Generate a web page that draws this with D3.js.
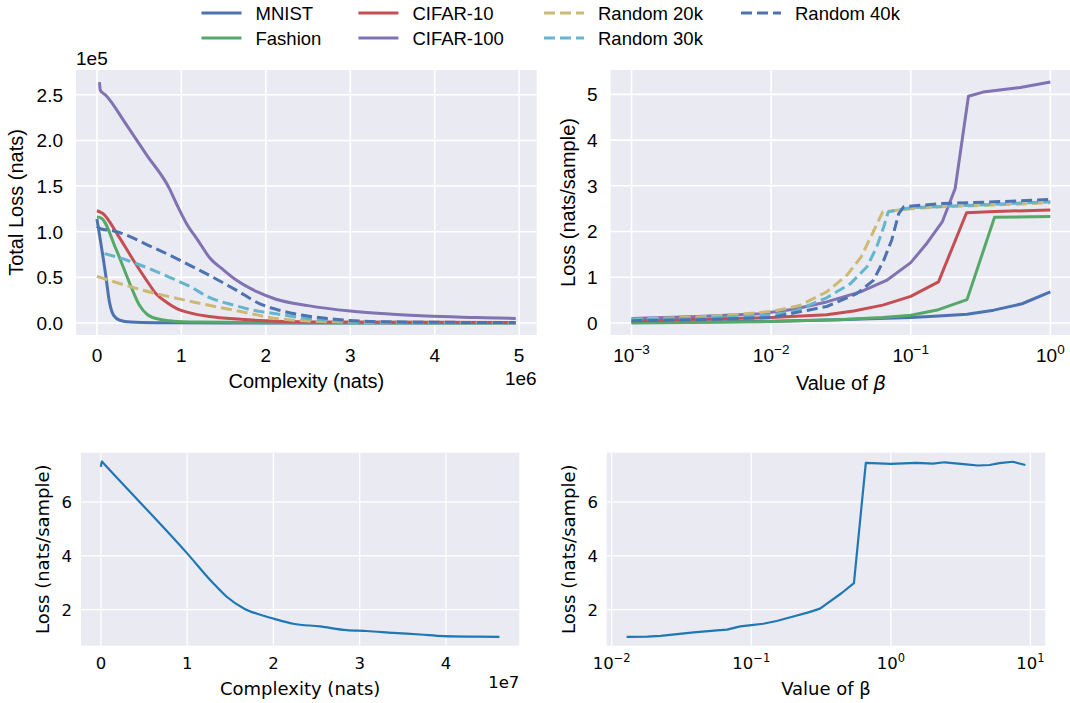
<!DOCTYPE html>
<html>
<head>
<meta charset="utf-8">
<script src="https://cdn.jsdelivr.net/npm/d3@7"></script>
<style>
  body { margin: 0; background: #fff; }
</style>
</head>
<body>
<div id="chart"></div>
<script>
// ---- data ----
var seriesNames = ["MNIST", "Fashion", "CIFAR-10", "CIFAR-100", "Random 20k", "Random 30k", "Random 40k"];
var seriesColors = ["#4C72B0", "#55A868", "#C44E52", "#8172B2", "#CCB974", "#64B5CD", "#4C72B0"];
var seriesDashed = [false, false, false, false, true, true, true];

// top left: complexity (x 1e6 nats) vs total loss (x 1e5 nats)
var complexityMnist = [[0, 1.14], [0.1, 0.55], [0.15, 0.22], [0.2, 0.08], [0.27, 0.03], [0.4, 0.01], [0.7, 0.003], [1.5, 0], [4.96, 0]];
var complexityFashion = [[0, 1.16], [0.05, 1.15], [0.23, 0.8], [0.39, 0.43], [0.5, 0.2], [0.6, 0.09], [0.74, 0.04], [0.9, 0.02], [1.2, 0.01], [2, 0.003], [4.96, 0]];
var complexityCifar10 = [[0, 1.23], [0.07, 1.2], [0.25, 0.96], [0.43, 0.69], [0.6, 0.45], [0.7, 0.32], [0.82, 0.23], [0.94, 0.16], [1.1, 0.11], [1.33, 0.07], [1.7, 0.04], [2.12, 0.02], [3, 0.01], [4.96, 0.005]];
var complexityCifar100 = [[0.03, 2.64], [0.04, 2.55], [0.11, 2.49], [0.35, 2.17], [0.59, 1.84], [0.86, 1.47], [0.95, 1.29], [1.06, 1.09], [1.2, 0.9], [1.33, 0.72], [1.5, 0.58], [1.65, 0.47], [1.9, 0.34], [2.12, 0.26], [2.5, 0.19], [3, 0.13], [3.5, 0.095], [3.9, 0.075], [4.5, 0.06], [4.96, 0.05]];
var complexityRand20 = [[0, 0.51], [0.54, 0.36], [1.14, 0.23], [1.73, 0.12], [2.12, 0.05], [2.33, 0.03], [3, 0.01], [4.96, 0.003]];
var complexityRand30 = [[0.09, 0.76], [0.35, 0.69], [0.86, 0.5], [1.1, 0.4], [1.33, 0.28], [1.6, 0.2], [1.85, 0.14], [2.12, 0.1], [2.4, 0.06], [2.72, 0.03], [3.5, 0.01], [4.96, 0.003]];
var complexityRand40 = [[0, 1.06], [0.05, 1.03], [0.19, 1.01], [0.66, 0.83], [1.21, 0.58], [1.65, 0.36], [1.93, 0.21], [2.12, 0.15], [2.4, 0.09], [2.72, 0.05], [3.5, 0.01], [4.96, 0.005]];

// top right: beta vs loss (nats/sample)
var betaMnist = [[0.001, 0.01], [0.003, 0.02], [0.01, 0.04], [0.03, 0.07], [0.1, 0.12], [0.158, 0.15], [0.253, 0.19], [0.393, 0.28], [0.627, 0.42], [1, 0.68]];
var betaFashion = [[0.001, 0], [0.01, 0.03], [0.03, 0.07], [0.063, 0.12], [0.1, 0.17], [0.158, 0.29], [0.253, 0.51], [0.398, 2.31], [1, 2.33]];
var betaCifar10 = [[0.001, 0.05], [0.003, 0.08], [0.01, 0.12], [0.025, 0.18], [0.039, 0.26], [0.063, 0.39], [0.1, 0.58], [0.158, 0.9], [0.251, 2.41], [0.4, 2.44], [1, 2.47]];
var betaCifar100 = [[0.001, 0.1], [0.003, 0.14], [0.0083, 0.2], [0.0145, 0.3], [0.025, 0.46], [0.0436, 0.68], [0.067, 0.93], [0.1, 1.32], [0.131, 1.75], [0.168, 2.21], [0.208, 2.94], [0.259, 4.96], [0.33, 5.05], [0.61, 5.15], [1, 5.27]];
var betaRand20 = [[0.001, 0.08], [0.003, 0.13], [0.006, 0.19], [0.01, 0.25], [0.016, 0.38], [0.025, 0.68], [0.035, 1.05], [0.044, 1.44], [0.054, 2.0], [0.063, 2.43], [0.1, 2.5], [0.16, 2.54], [0.4, 2.58], [1, 2.63]];
var betaRand30 = [[0.001, 0.07], [0.003, 0.1], [0.01, 0.17], [0.0145, 0.25], [0.025, 0.55], [0.037, 0.86], [0.0486, 1.23], [0.057, 1.66], [0.064, 2.1], [0.069, 2.43], [0.1, 2.52], [0.3, 2.58], [1, 2.65]];
var betaRand40 = [[0.001, 0.05], [0.003, 0.07], [0.01, 0.12], [0.025, 0.36], [0.041, 0.64], [0.054, 0.93], [0.064, 1.37], [0.073, 1.81], [0.082, 2.39], [0.089, 2.54], [0.16, 2.61], [0.4, 2.65], [1, 2.7]];

// bottom left: complexity (x 1e7 nats) vs loss
var bigComplexity = [[0, 7.3], [0.01, 7.5], [0.03, 7.43], [1.0, 4.09], [1.3, 2.99], [1.455, 2.49], [1.667, 2.03], [1.84, 1.82], [2.0, 1.67], [2.23, 1.48], [2.54, 1.38], [2.85, 1.24], [3.08, 1.21], [3.39, 1.14], [3.7, 1.08], [3.97, 1.02], [4.36, 1.0], [4.62, 0.99]];
// bottom right: beta vs loss
var bigBeta = [[0.0128, 0.99], [0.018, 1.0], [0.0224, 1.03], [0.0387, 1.16], [0.0569, 1.23], [0.067, 1.26], [0.0834, 1.38], [0.1, 1.43], [0.122, 1.48], [0.152, 1.58], [0.2, 1.75], [0.257, 1.9], [0.311, 2.04], [0.367, 2.31], [0.445, 2.62], [0.544, 2.99], [0.662, 7.45], [1.0, 7.41], [1.53, 7.45], [2.0, 7.42], [2.43, 7.47], [3.47, 7.39], [4.2, 7.35], [5.1, 7.37], [6.0, 7.44], [7.48, 7.49], [9.2, 7.37]];

var topLeftTicksX = [0, 1, 2, 3, 4, 5];
var topLeftTicksY = [0, 0.5, 1, 1.5, 2, 2.5];
var topRightTicksX = [-3, -2, -1, 0];
var topRightTicksY = [0, 1, 2, 3, 4, 5];
var bottomLeftTicksX = [0, 1, 2, 3, 4];
var bottomTicksY = [2, 4, 6];
var bottomRightTicksX = [-2, -1, 0, 1];

var topLeftSeries = [complexityMnist, complexityFashion, complexityCifar10, complexityCifar100, complexityRand20, complexityRand30, complexityRand40];
var topRightSeries = [betaMnist, betaFashion, betaCifar10, betaCifar100, betaRand20, betaRand30, betaRand40];

// ---- chart ----
var svgWidth = 1070;
var svgHeight = 703;

var svg = d3.select("#chart")
  .append("svg")
  .attr("width", svgWidth)
  .attr("height", svgHeight)
  .style("font-family", "'Liberation Sans', Arial, sans-serif");

svg.append("rect").attr("width", svgWidth).attr("height", svgHeight).attr("fill", "#fff");

var topFont = "'Liberation Sans', Arial, sans-serif";
var botFont = "'DejaVu Sans', sans-serif";

// matplotlib-style 5% padding
function padded(lo, hi) {
  var p = (hi - lo) * 0.05;
  return [lo - p, hi + p];
}
function allPoints(list) {
  return [].concat.apply([], list);
}

// builds one panel: background, grid and scales
function makePanel(box, xScale, yScale, xTicks, yTicks, gridWidth) {
  var g = svg.append("g");
  g.append("rect")
    .attr("x", box.left).attr("y", box.top)
    .attr("width", box.right - box.left).attr("height", box.bottom - box.top)
    .attr("fill", "#EAEAF2");
  g.selectAll(".gx").data(xTicks).enter().append("line")
    .attr("x1", d => xScale(d)).attr("x2", d => xScale(d))
    .attr("y1", box.top).attr("y2", box.bottom)
    .attr("stroke", "#fff").attr("stroke-width", gridWidth);
  g.selectAll(".gy").data(yTicks).enter().append("line")
    .attr("x1", box.left).attr("x2", box.right)
    .attr("y1", d => yScale(d)).attr("y2", d => yScale(d))
    .attr("stroke", "#fff").attr("stroke-width", gridWidth);
  var clipId = "clip" + Math.round(box.left) + "_" + Math.round(box.top);
  svg.append("clipPath").attr("id", clipId).append("rect")
    .attr("x", box.left).attr("y", box.top)
    .attr("width", box.right - box.left).attr("height", box.bottom - box.top);
  return g.append("g").attr("clip-path", "url(#" + clipId + ")");
}

function powerLabel(sel, exp, big, small) {
  sel.append("tspan").text("10").style("font-size", big + "px");
  sel.append("tspan").text("\u2212".repeat(exp < 0 ? 1 : 0) + Math.abs(exp))
    .attr("dy", -big * 0.42).style("font-size", small + "px");
}

// ---------- top left ----------
var b1 = {left: 76, right: 536.7, top: 70, bottom: 335};
var p1 = allPoints(topLeftSeries);
var x1 = d3.scaleLinear().domain(padded(0, d3.max(p1, d => d[0]))).range([b1.left, b1.right]);
var y1 = d3.scaleLinear().domain(padded(0, d3.max(p1, d => d[1]))).range([b1.bottom, b1.top]);
var g1 = makePanel(b1, x1, y1, topLeftTicksX, topLeftTicksY, 1.6);

var line1 = d3.line().x(d => x1(d[0])).y(d => y1(d[1])).curve(d3.curveMonotoneX);
topLeftSeries.forEach(function(s, i) {
  g1.append("path").datum(s)
    .attr("d", line1)
    .attr("fill", "none")
    .attr("stroke", seriesColors[i])
    .attr("stroke-width", 3)
    .attr("stroke-dasharray", seriesDashed[i] ? "11,5" : null)
    .attr("stroke-linecap", "butt");
});

svg.selectAll(".t1x").data(topLeftTicksX).enter().append("text")
  .attr("x", d => x1(d)).attr("y", 362)
  .attr("text-anchor", "middle").style("font-size", "19px").style("font-family", topFont)
  .text(d => d);
svg.selectAll(".t1y").data(topLeftTicksY).enter().append("text")
  .attr("x", 63).attr("y", d => y1(d) + 6.8)
  .attr("text-anchor", "end").style("font-size", "19px").style("font-family", topFont)
  .text(d => d.toFixed(1));
svg.append("text").attr("x", b1.left).attr("y", 65)
  .style("font-size", "19px").style("font-family", topFont).text("1e5");
svg.append("text").attr("x", b1.right).attr("y", 385).attr("text-anchor", "end")
  .style("font-size", "19px").style("font-family", topFont).text("1e6");
svg.append("text").attr("x", (b1.left + b1.right) / 2).attr("y", 388)
  .attr("text-anchor", "middle").style("font-size", "20px").style("font-family", topFont)
  .text("Complexity (nats)");
svg.append("text")
  .attr("transform", `translate(23, ${(b1.top + b1.bottom) / 2}) rotate(-90)`)
  .attr("text-anchor", "middle").style("font-size", "20px").style("font-family", topFont)
  .text("Total Loss (nats)");

// ---------- top right ----------
var b2 = {left: 610.6, right: 1071.3, top: 70, bottom: 335};
var p2 = allPoints(topRightSeries);
var lx2 = padded(Math.log10(d3.min(p2, d => d[0])), Math.log10(d3.max(p2, d => d[0])));
var x2 = d3.scaleLog().domain([Math.pow(10, lx2[0]), Math.pow(10, lx2[1])]).range([b2.left, b2.right]);
var y2 = d3.scaleLinear().domain(padded(0, d3.max(p2, d => d[1]))).range([b2.bottom, b2.top]);
var g2 = makePanel(b2, x2, y2, topRightTicksX.map(e => Math.pow(10, e)), topRightTicksY, 1.6);

var line2 = d3.line().x(d => x2(d[0])).y(d => y2(d[1]));
topRightSeries.forEach(function(s, i) {
  g2.append("path").datum(s)
    .attr("d", line2)
    .attr("fill", "none")
    .attr("stroke", seriesColors[i])
    .attr("stroke-width", 3)
    .attr("stroke-dasharray", seriesDashed[i] ? "11,5" : null)
    .attr("stroke-linejoin", "round");
});

topRightTicksX.forEach(function(e) {
  var t = svg.append("text").attr("x", x2(Math.pow(10, e))).attr("y", 362)
    .attr("text-anchor", "middle").style("font-family", topFont);
  powerLabel(t, e, 19, 13.5);
});
svg.selectAll(".t2y").data(topRightTicksY).enter().append("text")
  .attr("x", 597.5).attr("y", d => y2(d) + 6.8)
  .attr("text-anchor", "end").style("font-size", "19px").style("font-family", topFont)
  .text(d => d);
var vb = svg.append("text").attr("x", 841).attr("y", 390)
  .attr("text-anchor", "middle").style("font-size", "20px").style("font-family", topFont);
vb.append("tspan").text("Value of ");
vb.append("tspan").text("\u03b2").style("font-style", "italic").style("font-family", "'DejaVu Sans', sans-serif");
svg.append("text")
  .attr("transform", `translate(575, ${(b2.top + b2.bottom) / 2}) rotate(-90)`)
  .attr("text-anchor", "middle").style("font-size", "20px").style("font-family", topFont)
  .text("Loss (nats/sample)");

// ---------- legend ----------
var legendCols = [201.5, 358.4, 544, 741];
var legendRows = [13, 38];
seriesNames.forEach(function(name, i) {
  var cx = legendCols[Math.floor(i / 2)];
  var cy = legendRows[i % 2];
  svg.append("line")
    .attr("x1", cx).attr("x2", cx + 40).attr("y1", cy).attr("y2", cy)
    .attr("stroke", seriesColors[i]).attr("stroke-width", 3)
    .attr("stroke-dasharray", seriesDashed[i] ? "11,5" : null);
  svg.append("text").attr("x", cx + 54).attr("y", cy + 6.8)
    .style("font-size", "18.5px").style("font-family", topFont).text(name);
});

// ---------- bottom left ----------
var b3 = {left: 81, right: 519.3, top: 452.7, bottom: 645.7};
var x3 = d3.scaleLinear().domain(padded(0, d3.max(bigComplexity, d => d[0]))).range([b3.left, b3.right]);
var yDomB = padded(d3.min(bigComplexity.concat(bigBeta), d => d[1]), d3.max(bigComplexity.concat(bigBeta), d => d[1]));
var y3 = d3.scaleLinear().domain(yDomB).range([b3.bottom, b3.top]);
var g3 = makePanel(b3, x3, y3, bottomLeftTicksX, bottomTicksY, 1.3);
g3.append("path").datum(bigComplexity)
  .attr("d", d3.line().x(d => x3(d[0])).y(d => y3(d[1])).curve(d3.curveMonotoneX))
  .attr("fill", "none").attr("stroke", "#1f77b4").attr("stroke-width", 2.2);

svg.selectAll(".t3x").data(bottomLeftTicksX).enter().append("text")
  .attr("x", d => x3(d)).attr("y", 669)
  .attr("text-anchor", "middle").style("font-size", "16.5px").style("font-family", botFont)
  .text(d => d);
svg.selectAll(".t3y").data(bottomTicksY).enter().append("text")
  .attr("x", 72).attr("y", d => y3(d) + 6)
  .attr("text-anchor", "end").style("font-size", "16.5px").style("font-family", botFont)
  .text(d => d);
svg.append("text").attr("x", b3.right).attr("y", 688).attr("text-anchor", "end")
  .style("font-size", "16.5px").style("font-family", botFont).text("1e7");
svg.append("text").attr("x", (b3.left + b3.right) / 2).attr("y", 695)
  .attr("text-anchor", "middle").style("font-size", "18px").style("font-family", botFont)
  .text("Complexity (nats)");
svg.append("text")
  .attr("transform", `translate(49, ${(b3.top + b3.bottom) / 2}) rotate(-90)`)
  .attr("text-anchor", "middle").style("font-size", "18px").style("font-family", botFont)
  .text("Loss (nats/sample)");

// ---------- bottom right ----------
var b4 = {left: 606.7, right: 1045.3, top: 452.7, bottom: 645.7};
var lx4 = padded(Math.log10(d3.min(bigBeta, d => d[0])), Math.log10(d3.max(bigBeta, d => d[0])));
var x4 = d3.scaleLog().domain([Math.pow(10, lx4[0]), Math.pow(10, lx4[1])]).range([b4.left, b4.right]);
var y4 = d3.scaleLinear().domain(yDomB).range([b4.bottom, b4.top]);
var g4 = makePanel(b4, x4, y4, bottomRightTicksX.map(e => Math.pow(10, e)), bottomTicksY, 1.3);
g4.append("path").datum(bigBeta)
  .attr("d", d3.line().x(d => x4(d[0])).y(d => y4(d[1])))
  .attr("fill", "none").attr("stroke", "#1f77b4").attr("stroke-width", 2.2)
  .attr("stroke-linejoin", "round");

bottomRightTicksX.forEach(function(e) {
  var t = svg.append("text").attr("x", x4(Math.pow(10, e))).attr("y", 669)
    .attr("text-anchor", "middle").style("font-family", botFont);
  powerLabel(t, e, 16.5, 11.5);
});
svg.selectAll(".t4y").data(bottomTicksY).enter().append("text")
  .attr("x", 598).attr("y", d => y4(d) + 6)
  .attr("text-anchor", "end").style("font-size", "16.5px").style("font-family", botFont)
  .text(d => d);
svg.append("text").attr("x", (b4.left + b4.right) / 2).attr("y", 695)
  .attr("text-anchor", "middle").style("font-size", "18px").style("font-family", botFont)
  .text("Value of \u03b2");
svg.append("text")
  .attr("transform", `translate(575, ${(b4.top + b4.bottom) / 2}) rotate(-90)`)
  .attr("text-anchor", "middle").style("font-size", "18px").style("font-family", botFont)
  .text("Loss (nats/sample)");
</script>
</body>
</html>
